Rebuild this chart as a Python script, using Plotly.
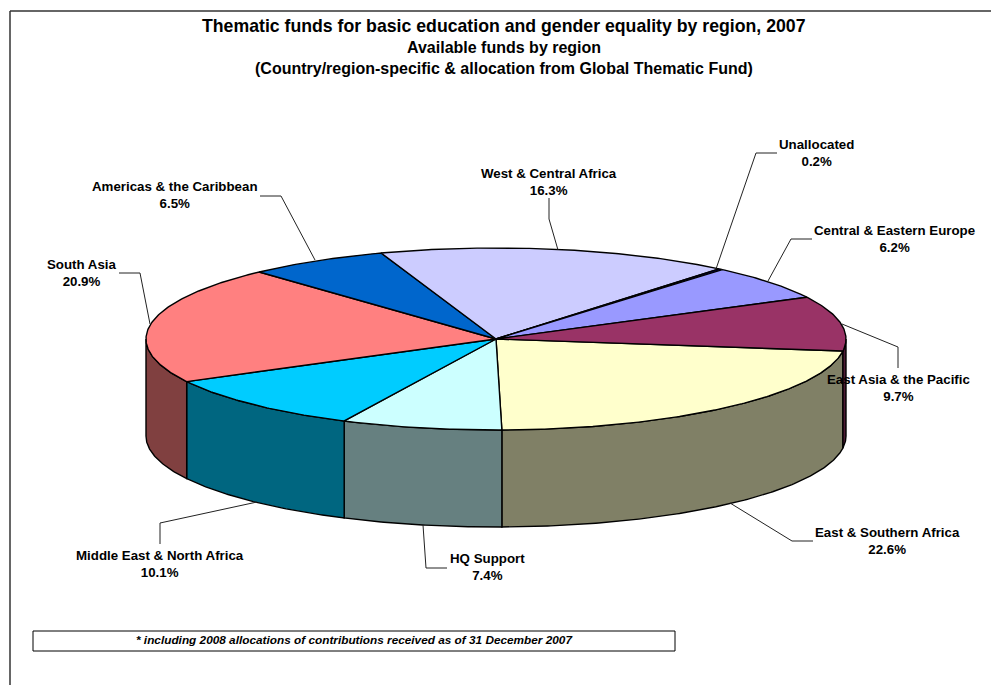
import math
import plotly.graph_objects as go

# ---- data ----
regions = ["East & Southern Africa", "HQ Support", "Middle East & North Africa", "South Asia",
           "Americas & the Caribbean", "West & Central Africa", "Unallocated",
           "Central & Eastern Europe", "East Asia & the Pacific"]
shares = [22.6, 7.4, 10.1, 20.9, 6.5, 16.3, 0.2, 6.2, 9.7]
top_colors = ["#FFFFCC", "#CCFFFF", "#00CCFF", "#FF8080", "#0066CC", "#CCCCFF", "#000080", "#9999FF", "#993366"]
side_colors = ["#808066", "#668080", "#006680", "#804040", "#003366", "#666680", "#000040", "#4D4D80", "#4D1A33"]
title_lines = ["Thematic funds for basic education and gender equality by region, 2007",
               "Available funds by region",
               "(Country/region-specific & allocation from Global Thematic Fund)"]
footnote = "* including 2008 allocations of contributions received as of 31 December 2007"

# ---- projection of the tilted pie into the page ----
CX, CY, RX, RY, DEPTH = 496, 339, 350, 91, 97
START_DEG = 97.6


def pt(deg, drop=0.0):
    a = math.radians(deg)
    return CX + RX * math.sin(a), CY - RY * math.cos(a) + drop


def arc(a0, a1, drop=0.0):
    n = max(2, int(abs(a1 - a0) * 2))
    return [pt(a0 + (a1 - a0) * i / n, drop) for i in range(n + 1)]


total = sum(shares)
edges = [START_DEG]
for s in shares:
    edges.append(edges[-1] + s / total * 360)

fig = go.Figure()


def poly(points, fill, width=1.4):
    fig.add_trace(go.Scatter(x=[p[0] for p in points] + [points[0][0]],
                             y=[p[1] for p in points] + [points[0][1]],
                             mode="lines", fill="toself", fillcolor=fill,
                             line=dict(color="black", width=width),
                             hoverinfo="skip", showlegend=False))


# visible outer walls: the front half of the rim, 90..270 degrees
for i in range(len(shares)):
    for lo, hi in ((edges[i], edges[i + 1]), (edges[i] - 360, edges[i + 1] - 360)):
        a0, a1 = max(lo, 90), min(hi, 270)
        if a1 > a0:
            poly(arc(a0, a1) + arc(a1, a0, DEPTH), side_colors[i])

# top faces
for i in range(len(shares)):
    poly([(CX, CY)] + arc(edges[i], edges[i + 1]), top_colors[i])

# ---- leader lines and labels (page pixel positions) ----
label_pos = {
    "East & Southern Africa": (887, 540.5),
    "HQ Support": (487, 567),
    "Middle East & North Africa": (160, 564),
    "South Asia": (82, 272.5),
    "Americas & the Caribbean": (175, 195),
    "West & Central Africa": (549, 181.5),
    "Unallocated": (816, 152.5),
    "Central & Eastern Europe": (894, 239),
    "East Asia & the Pacific": (898, 387.5),
}
leaders = {
    "East & Southern Africa": [(730, 503), (792, 541), (813, 541)],
    "HQ Support": [(423, 525), (426, 568), (447, 568)],
    "Middle East & North Africa": [(257, 502), (160, 523), (160, 544)],
    "South Asia": [(150, 324), (140, 273), (119, 273)],
    "Americas & the Caribbean": [(315, 260), (281, 196), (260, 196)],
    "West & Central Africa": [(558, 250), (549, 219), (549, 198)],
    "Unallocated": [(716, 269), (756, 153), (777, 153)],
    "Central & Eastern Europe": [(768, 281), (791, 239), (812, 239)],
    "East Asia & the Pacific": [(842, 324), (898, 347), (898, 368)],
}
for name in regions:
    pts = leaders[name]
    fig.add_trace(go.Scatter(x=[p[0] for p in pts], y=[p[1] for p in pts], mode="lines",
                             line=dict(color="#222222", width=1), hoverinfo="skip", showlegend=False))
    x, y = label_pos[name]
    fig.add_annotation(x=x, y=y, xref="x", yref="y", showarrow=False, align="center",
                       text=f"<b>{name}<br>{shares[regions.index(name)]:.1f}%</b>",
                       font=dict(family="Liberation Sans", size=13.3, color="black"))

for line, y, size in zip(title_lines, (26, 47, 68), (17.7, 16, 16)):
    fig.add_annotation(x=504, y=y, xref="x", yref="y", showarrow=False,
                       text=f"<b>{line}</b>", font=dict(family="Liberation Sans", size=size, color="black"))

fig.add_annotation(x=354, y=639.5, xref="x", yref="y", showarrow=False,
                   text=f"<b><i>{footnote}</i></b>", font=dict(family="Liberation Sans", size=11.8, color="black"))

shapes = [
    dict(type="rect", x0=33, y0=631, x1=675, y1=651, line=dict(color="black", width=1)),
    dict(type="line", x0=10, y0=11, x1=10, y1=685, line=dict(color="#333333", width=1.5)),
    dict(type="line", x0=10, y0=11, x1=991, y1=11, line=dict(color="#333333", width=1.5)),
]

fig.update_layout(width=991, height=685, margin=dict(l=0, r=0, t=0, b=0),
                  paper_bgcolor="white", plot_bgcolor="white", shapes=shapes, showlegend=False,
                  xaxis=dict(range=[0, 991], visible=False),
                  yaxis=dict(range=[685, 0], visible=False))
fig.write_html("out.html", config={"displayModeBar": False},
               post_script="document.body.style.margin='0';document.body.style.overflow='hidden';")
